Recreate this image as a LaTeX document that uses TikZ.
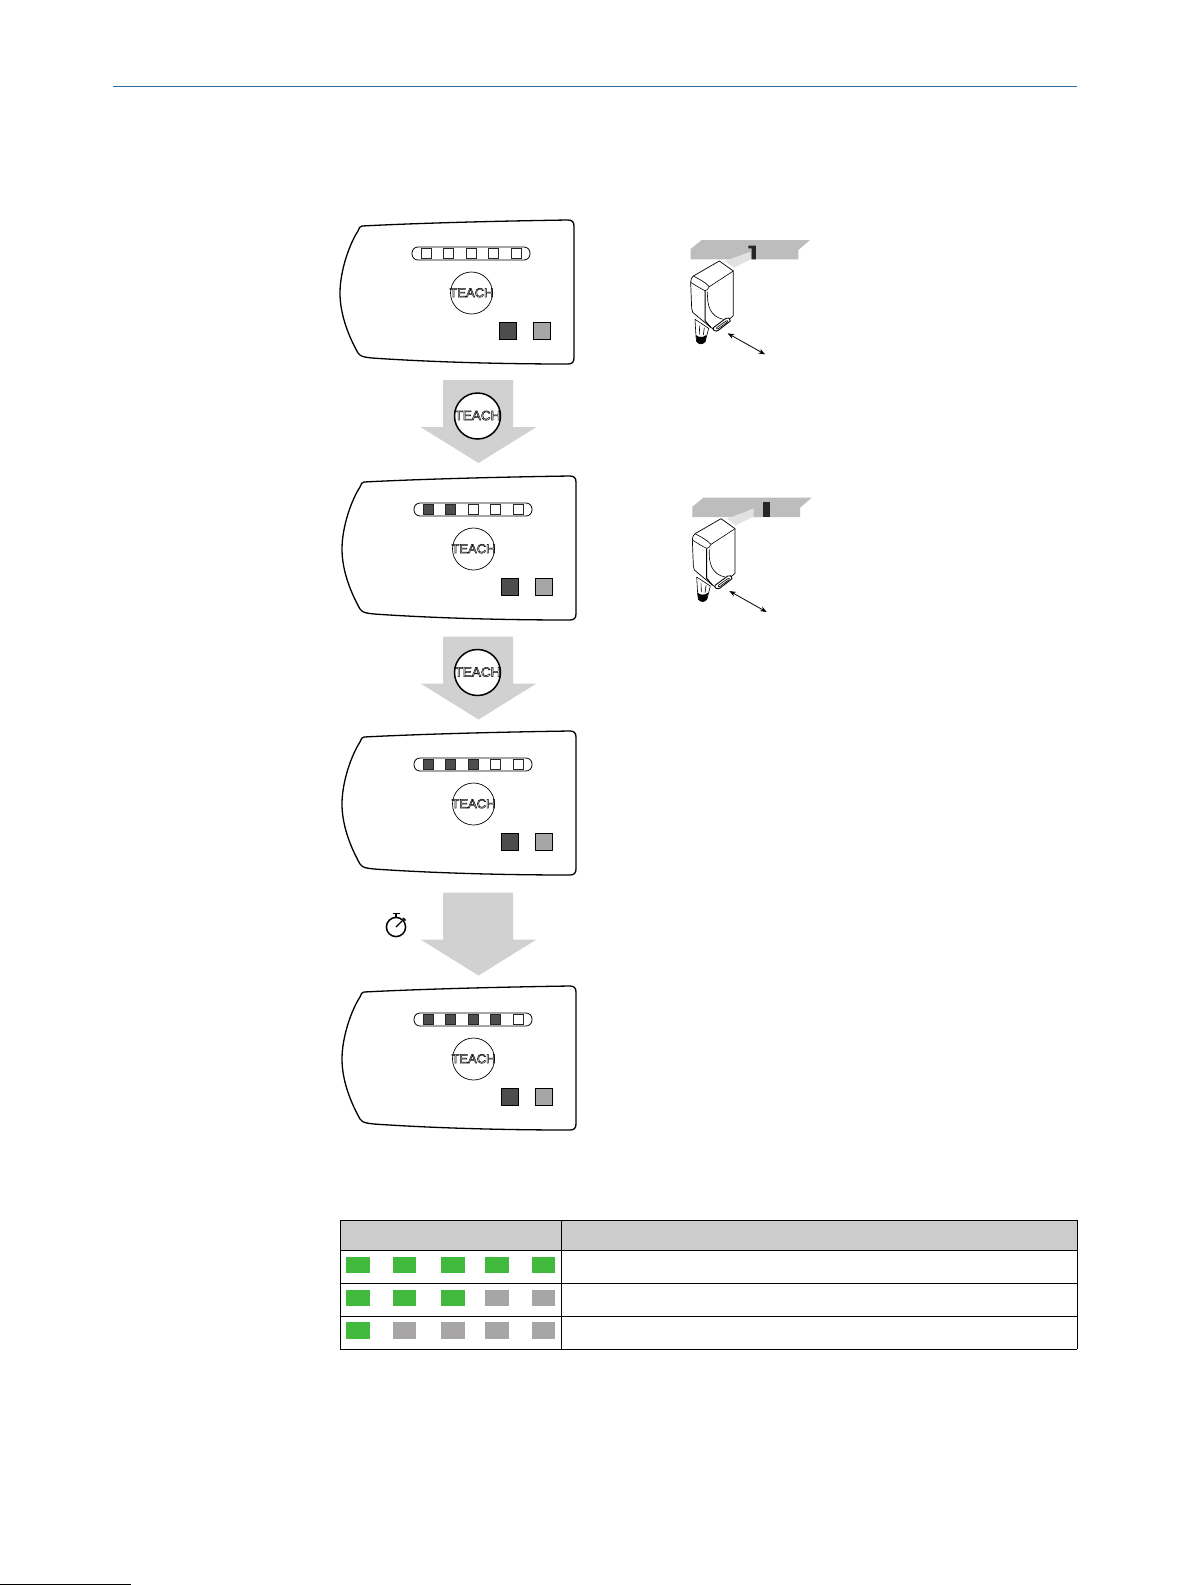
\documentclass[tikz,border=0pt]{standalone}
\usepackage{fontspec}
\usetikzlibrary{arrows.meta}
\setmainfont{Liberation Sans}
\definecolor{arrowgrey}{HTML}{D1D1D1}
\definecolor{ledgreen}{HTML}{40B93C}
\definecolor{ledgrey}{HTML}{A7A5A6}
\definecolor{darksq}{HTML}{4D4D4F}
\definecolor{hdrgrey}{HTML}{CCCCCC}
\definecolor{rulecol}{HTML}{2A6F9E}
\definecolor{bandgrey}{HTML}{BDBDBD}
\definecolor{beamgrey}{HTML}{E2E2E2}
\newcommand{\teachtext}{\raisebox{-4.2pt}[0pt][0pt]{\makebox[0pt][c]{\special{pdf:code q 1 Tr 0.5 w}TEACH\special{pdf:code Q}}}}
\tikzset{
  panelline/.style={draw=black,line width=1.3pt,line join=round},
  ledoff/.style={draw=black!85,line width=0.7pt,fill=white},
  ledon/.style={draw=black!85,line width=0.7pt,fill=darksq},
  teachcircle/.style={circle,draw=black,line width=0.7pt,fill=white,inner sep=0pt,minimum size=42pt,text height=4.5pt,text depth=4.5pt,font=\fontsize{13}{13}\selectfont},
  teachbig/.style={circle,draw=black,line width=1.5pt,fill=white,inner sep=0pt,minimum size=46pt,text height=4.5pt,text depth=4.5pt,font=\fontsize{13.5}{13.5}\selectfont},
  flowarrow/.style={fill=arrowgrey,draw=none},
  tbl/.style={draw=black,line width=0.9pt},
  sens/.style={draw=black,line width=0.6pt,line join=round},
  twohead/.style={draw=black,line width=0.8pt,{Stealth[length=6.5pt,width=5pt]}-{Stealth[length=6.5pt,width=5pt]}},
}
% #1 = name, #2 = dx, #3 = dy, #4 = number of lit LEDs
\newcommand{\panel}[4]{%
\begin{scope}[shift={(#2,#3)}]
\draw[panelline] (362,226) .. controls (420,223) and (500,221) .. (568,220)
  .. controls (572,220) and (574,222) .. (574,226) -- (574,358)
  .. controls (574,362) and (572,364) .. (568,364)
  .. controls (500,364) and (430,362) .. (372,358)
  .. controls (364,357) and (361,357) .. (358,353)
  .. controls (349,337) and (340,315) .. (340,293)
  .. controls (340,270) and (350,243) .. (358,231)
  .. controls (359,228) and (360,226) .. (362,226) -- cycle;
\draw[line width=0.8pt,rounded corners=6pt] (412,247) rectangle (530,260);
\foreach \i/\x in {1/421,2/443.5,3/466,4/488.5,5/511}{
  \ifnum\i>#4\relax
    \path[ledoff] (\x,248.5) rectangle ++(10,10);
  \else
    \path[ledon] (\x,248.5) rectangle ++(10,10);
  \fi}
\node[teachcircle] (#1) at (471.5,293) {\teachtext};
\fill[darksq,draw=black,line width=0.6pt] (499.5,322) rectangle (516.5,339);
\fill[ledgrey,draw=black,line width=0.6pt] (533,322) rectangle (550.5,339);
\end{scope}}
% flow arrow
\newcommand{\flowarrowat}[1]{%
\begin{scope}[shift={(0,#1)}]
\fill[flowarrow] (443,380) -- (513,380) -- (513,427) -- (536.5,427) -- (478.5,463) -- (420.5,427) -- (443,427) -- cycle;
\end{scope}}
\newcommand{\sensorbody}{%
\fill[beamgrey] (195,108) -- (272,80) -- (272,103) -- (222,128) -- cycle;
\fill[white,sens,line width=0.7pt] (178,108) -- (220,138) -- (220,272) -- (207,283) -- (170,318) -- (152,307) -- (98,262)
  .. controls (95,258) and (95,255) .. (95,250) -- (92,172) .. controls (92,162) and (95,157) .. (100,153) -- cycle;
\draw[sens] (92,172) .. controls (105,180) and (120,190) .. (135,197) .. controls (140,197) and (145,192) .. (148,185) -- (220,138);
\draw[sens] (100,153) .. controls (112,160) and (135,170) .. (148,185);
\draw[sens,line width=1pt] (135,197) -- (135,287) -- (152,307);
\draw[sens] (143,200) .. controls (140,240) and (150,275) .. (190,283);
\fill[white,sens,line width=0.9pt] (160,308) -- (198,280) .. controls (205,276) and (212,280) .. (211,288)
  -- (175,316) .. controls (167,321) and (157,316) .. (160,308) -- cycle;
\draw[sens] (170,308) -- (198,288) .. controls (202,285) and (205,288) .. (202,291) -- (175,311) .. controls (171,314) and (167,311) .. (170,308) -- cycle;
\fill[white,sens] (105,283) -- (108,335) -- (110,350) .. controls (120,358) and (132,355) .. (136,348) -- (146,310) -- cycle;
\fill[black] (108,330) .. controls (115,338) and (130,338) .. (139,330) -- (136,350) .. controls (130,360) and (115,360) .. (110,350) -- cycle;
\draw[sens] (118,302) -- (119,328) (133,308) -- (130,330);
}
\begin{document}
\begin{tikzpicture}[x=1pt,y=-1pt]
\useasboundingbox (0,0) rectangle (1192,1585);
\fill[white] (0,0) rectangle (1192,1585);
% header rule
\draw[rulecol,line width=1.1pt] (113,86.5) -- (1077,86.5);
% arrows
\flowarrowat{0}
\flowarrowat{256.5}
\flowarrowat{512.5}
% panels
\panel{t1}{0}{0}{0}
\panel{t2}{2}{256}{2}
\panel{t3}{2}{511}{3}
\panel{t4}{2}{766}{4}
% big TEACH buttons
\node[teachbig] (b1) at (477.5,416) {\teachtext};
\node[teachbig] (b2) at (477.5,672.5) {\teachtext};
% stopwatch
\draw[black,line width=1.5pt] (396,927) circle (9.6);
\draw[black,line width=1.5pt] (396,917.5) -- (396,914) (392.5,913.5) -- (399.5,913.5);
\draw[black,line width=1.5pt] (403,918) -- (405.5,920.5);
\draw[black,line width=1.1pt] (396,927) -- (402,921);
% sensor 1
\begin{scope}[shift={(660,225)},x=0.3333pt,y=-0.3333pt]
\fill[bandgrey] (92,72) -- (125,45) -- (450,45) -- (415,75) -- (415,103) -- (92,103) -- cycle;
\sensorbody
\fill[black!85] (265,62) -- (288,62) -- (288,103) -- (275,103) -- (275,70) -- (265,70) -- cycle;
\coordinate (s1a) at (203,325);
\coordinate (s1b) at (315,388);
\draw[twohead] (s1a) -- (s1b);
\end{scope}
% sensor 2
\begin{scope}[shift={(661.7,482.7)},x=0.3333pt,y=-0.3333pt]
\fill[bandgrey] (92,72) -- (125,45) -- (450,45) -- (415,75) -- (415,103) -- (92,103) -- cycle;
\fill[beamgrey] (260,84) -- (276,77) -- (276,103) -- (250,103) -- cycle;
\sensorbody
\fill[black!85] (305,57) rectangle (325,103);
\coordinate (s2a) at (203,325);
\coordinate (s2b) at (315,388);
\draw[twohead] (s2a) -- (s2b);
\end{scope}
% table
\fill[hdrgrey] (340,1220) rectangle (1077,1250);
\foreach \y in {1220,1250,1283,1316,1349}{\draw[tbl] (340,\y) -- (1077,\y);}
\foreach \x in {340,561,1077}{\draw[tbl] (\x,1220) -- (\x,1349);}
\foreach \xa/\xb/\ya/\yb/\c in {
 346/370/1257/1273/ledgreen,393/416/1257/1273/ledgreen,441/465/1257/1273/ledgreen,485/509/1257/1273/ledgreen,532/555/1257/1273/ledgreen,
 346/370/1290/1306/ledgreen,393/416/1290/1306/ledgreen,441/465/1290/1306/ledgreen,485/509/1290/1306/ledgrey,532/555/1290/1306/ledgrey,
 346/370/1322/1339/ledgreen,393/416/1322/1339/ledgrey,441/465/1322/1339/ledgrey,485/509/1322/1339/ledgrey,532/555/1322/1339/ledgrey}{
 \fill[\c] (\xa,\ya) rectangle (\xb,\yb);}
% page edge mark
\fill[black] (0,1584) rectangle (131,1585);
\end{tikzpicture}
\end{document}
